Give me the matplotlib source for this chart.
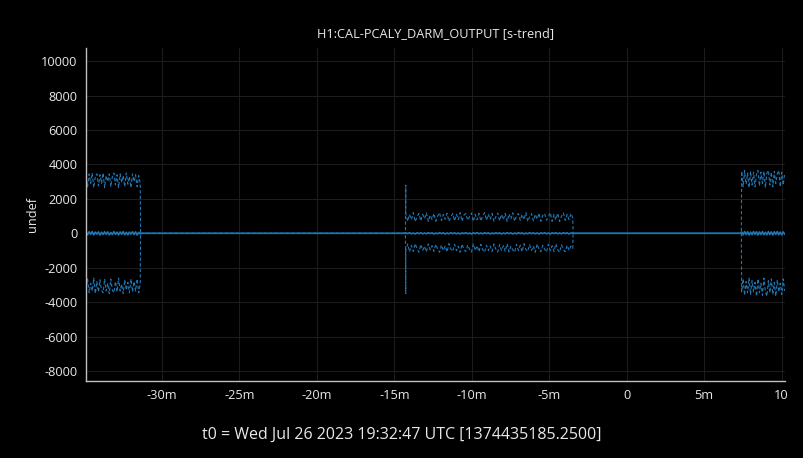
import numpy as np
import matplotlib.pyplot as plt
from matplotlib.ticker import FuncFormatter

plt.rcParams['font.family'] = ['Open Sans', 'DejaVu Sans']
plt.rcParams['axes.unicode_minus'] = False

# Segment boundaries (minutes relative to t0)
t_start = -34.9
a_end = -31.4
b_start = -14.26
b_end = -3.48
c_start = 7.42
t_end = 10.2

# Segment A (start of span): max / min / mean
a_max = [3350, 2700, 3450, 2900, 3500, 2650, 3300, 3450, 2750, 3400,
         2900, 3500, 2650, 3350, 3000, 3450, 2700, 3300, 3500, 2800,
         3400, 2650, 3450, 2950, 3350, 2700, 3500, 2850, 3300, 2650,
         3450, 3000, 3400, 2700, 3350, 2900]
a_min = [-3300, -2650, -3450, -2900, -3350, -2600, -3500, -2800, -3400, -2700,
         -3300, -3450, -2650, -3350, -2900, -3500, -2650, -3300, -3450, -2800,
         -3400, -2600, -3350, -2950, -3500, -2700, -3300, -2850, -3450, -2650,
         -3400, -2800, -3350, -2650, -3450, -2900]
a_mean = [60, -80, 90, -60, 100, -90, 70, -50, 80, -100,
          60, -70, 90, -60, 80, -90, 50, -70, 100, -60,
          70, -90, 80, -60, 100, -80, 60, -90, 70, -50,
          90, -70, 80, -100, 60, -40]

# Spike at start of segment B
spike_max = 2800
spike_min = -3500

# Segment B (middle injection)
b_max = [1150, 700, 1100, 800, 1200, 680, 950, 1150, 720, 1100,
         850, 1180, 690, 1050, 800, 1150, 700, 1000, 1200, 750,
         1100, 820, 1160, 690, 950, 1140, 720, 1100, 800, 1200,
         700, 1050, 1150, 760, 960, 1180, 690, 1100, 780, 1160,
         710, 1000, 1200, 760, 1100, 800, 1150, 700, 960, 1180,
         720, 1100, 790, 1150, 680, 1120, 820, 1190, 700, 1000,
         1150, 750, 1100, 790, 1200, 690, 960, 1140, 720, 1100,
         820, 1170, 700, 1050, 1150, 760, 960, 1200, 700, 1100,
         780, 1160, 690, 1000, 1180, 750, 1100, 800, 1150, 900]
b_min = [-1000, -620, -1080, -700, -1050, -600, -900, -1100, -650, -1000,
         -750, -1080, -620, -960, -720, -1050, -640, -940, -1100, -680,
         -1000, -730, -1080, -600, -920, -1050, -640, -1000, -750, -1100,
         -620, -950, -1060, -680, -930, -1090, -610, -1000, -720, -1070,
         -640, -950, -1100, -690, -1000, -740, -1050, -620, -930, -1090,
         -660, -1000, -720, -1050, -610, -1080, -750, -960, -1100, -640,
         -1000, -700, -1070, -600, -940, -1050, -660, -1000, -740, -1100,
         -620, -950, -1070, -690, -930, -1090, -640, -1000, -720, -1060,
         -610, -960, -1100, -670, -940, -1070, -700, -1000, -750, -880]
b_mean = [30, -20, 40, -30, 20, -40, 30, -20, 40, -30,
          20, -30, 40, -20, 30, -40, 20, -30, 40, -20,
          30, -40, 20, -30, 40, -20, 30, -30, 20, -40,
          30, -20, 40, -30, 20, -40, 30, -20, 40, -30,
          20, -30, 40, -20, 30, -40, 20, -30, 40, -20,
          30, -40, 20, -30, 40, -20, 30, -40, 20, -30,
          40, -20, 30, -40, 20, -30, 40, -20, 30, -30,
          20, -40, 30, -20, 40, -30, 20, -40, 30, -20,
          40, -30, 20, -30, 40, -20, 30, -40, 20, 10]

# Segment C (end of span)
c_max = [3600, 2700, 3650, 2850, 3500, 2650, 3600, 2800, 3550, 2700,
         3450, 3650, 2750, 3550, 2900, 3600, 2650, 3500, 3650, 2800,
         3550, 2700, 3600, 2900, 3450, 3650, 2700, 3550, 2800, 3500]
c_min = [-3400, -2650, -3600, -2800, -3450, -2600, -3550, -2750, -3400, -2850,
         -3650, -2650, -3450, -2900, -3600, -2600, -3400, -3650, -2750, -3450,
         -2650, -3550, -2850, -3650, -2700, -3400, -2900, -3550, -2650, -3350]
c_mean = [80, -90, 100, -70, 90, -100, 70, -80, 100, -60,
          90, -100, 80, -70, 100, -80, 60, -90, 100, -70,
          80, -100, 90, -60, 100, -80, 70, -90, 80, -50]


def build(seg_a, seg_b, seg_c, spike=None):
    ta = np.linspace(t_start, a_end, len(seg_a))
    tb = np.linspace(b_start, b_end, len(seg_b))
    tc = np.linspace(c_start, t_end, len(seg_c))
    t = list(ta) + [a_end + 0.02, b_start - 0.02]
    v = list(seg_a) + [0, 0]
    if spike is not None:
        t += [b_start]
        v += [spike]
    t += list(tb) + [b_end + 0.02, c_start - 0.02] + list(tc)
    v += list(seg_b) + [0, 0] + list(seg_c)
    return np.array(t), np.array(v)


bg = '#000000'
fig = plt.figure(figsize=(8.04, 4.58), dpi=100, facecolor=bg)
ax = fig.add_axes([0.107, 0.168, 0.869, 0.727], facecolor=bg)

blue = '#1f77b4'
t_max, v_max = build(a_max, b_max, c_max, spike_max)
t_min, v_min = build(a_min, b_min, c_min, spike_min)
t_mean, v_mean = build(a_mean, b_mean, c_mean)

ax.plot(t_max, v_max, color=blue, lw=0.8, ls=(0, (3, 2)))
ax.plot(t_min, v_min, color=blue, lw=0.8, ls=(0, (3, 2)))
ax.plot(t_mean, v_mean, color=blue, lw=1.2)

ax.set_xlim(-34.9, 10.2)
ax.set_ylim(-8580, 10755)
ax.set_xticks(np.arange(-30, 11, 5))
ax.set_yticks(np.arange(-8000, 10001, 2000))


def fmt_min(v, pos):
    v = int(round(v))
    if v == 0 or v == 10:
        return str(v)
    return f"{v}m"


ax.xaxis.set_major_formatter(FuncFormatter(fmt_min))
ax.grid(True, color='#1c1c1c', lw=0.8)
ax.set_axisbelow(True)
ax.tick_params(colors='#e8e8e8', labelsize=9.2, length=0, pad=6)

for s in ['top', 'right']:
    ax.spines[s].set_visible(False)
for s in ['left', 'bottom']:
    ax.spines[s].set_color('#c0c0c0')
    ax.spines[s].set_linewidth(1)

ax.set_ylabel('undef', color='#e8e8e8', fontsize=9.2, labelpad=2)
ax.set_title('H1:CAL-PCALY_DARM_OUTPUT [s-trend]', color='#e8e8e8',
             fontsize=9.2, pad=8)
fig.text(0.5, 0.05, 't0 = Wed Jul 26 2023 19:32:47 UTC [1374435185.2500]',
         ha='center', va='center', color='#e8e8e8', fontsize=11.5)

fig.savefig('out.png', dpi=100, facecolor=bg)
